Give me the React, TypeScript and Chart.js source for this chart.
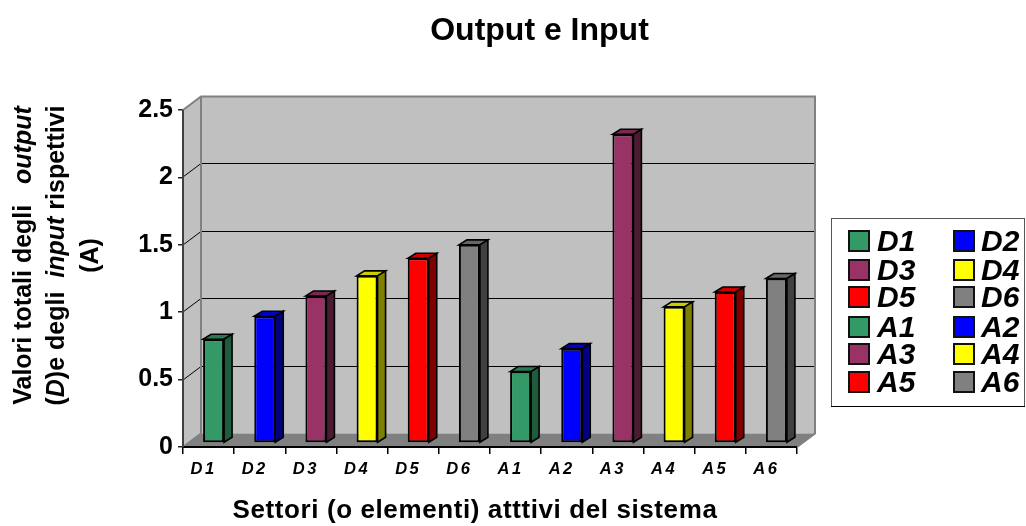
import React, { useEffect, useRef } from "react";
import { Chart, registerables } from "chart.js";

Chart.register(...registerables);

const categories = ["D1", "D2", "D3", "D4", "D5", "D6", "A1", "A2", "A3", "A4", "A5", "A6"];
const values = [0.77, 0.94, 1.09, 1.24, 1.37, 1.47, 0.53, 0.7, 2.29, 1.01, 1.12, 1.22];
const frontColors = ["#339966", "#0000FF", "#993366", "#FFFF00", "#FF0000", "#808080", "#339966", "#0000FF", "#993366", "#FFFF00", "#FF0000", "#808080"];
const topColors = ["#287A52", "#0000CC", "#7A2952", "#CCCC00", "#CC0000", "#666666", "#287A52", "#0000CC", "#7A2952", "#CCCC00", "#CC0000", "#666666"];
const sideColors = ["#1F5C3D", "#000080", "#4D1A33", "#808000", "#800000", "#404040", "#1F5C3D", "#000080", "#4D1A33", "#808000", "#800000", "#404040"];
const yTicks = [0, 0.5, 1, 1.5, 2, 2.5];
const titleText = "Output e Input";
const xTitleText = "Settori (o elementi) atttivi del sistema";
const yTitleLines: [string, boolean][][] = [
  [["Valori totali degli   ", false], ["output", true]],
  [["(", false], ["D", true], [")e degli  ", false], ["input", true], [" rispettivi", false]],
  [["(A)", false]],
];

const FF = '"Liberation Sans", Arial, sans-serif';
const DX = 18;
const DY = -13.5;
const BAR_DX = 5;
const BAR_DY = -4;
const BAR_DEPTH_X = 8;
const BAR_DEPTH_Y = -5;

function poly(ctx: CanvasRenderingContext2D, pts: number[][], fill?: string, stroke?: string, lw = 1) {
  ctx.beginPath();
  pts.forEach((p, i) => (i ? ctx.lineTo(p[0], p[1]) : ctx.moveTo(p[0], p[1])));
  ctx.closePath();
  if (fill) {
    ctx.fillStyle = fill;
    ctx.fill();
  }
  if (stroke) {
    ctx.strokeStyle = stroke;
    ctx.lineWidth = lw;
    ctx.stroke();
  }
}

const walls = {
  id: "walls",
  beforeDatasetsDraw(chart: any) {
    const { ctx, chartArea: a, scales } = chart;
    const { left: l, right: r, top: t, bottom: b } = a;
    ctx.save();
    poly(ctx, [[l + DX, t + DY], [r + DX, t + DY], [r + DX, b + DY], [l + DX, b + DY]], "#C0C0C0");
    poly(ctx, [[l, t], [l + DX, t + DY], [l + DX, b + DY], [l, b]], "#C0C0C0");
    poly(ctx, [[l, b], [l + DX, b + DY], [r + DX, b + DY], [r, b]], "#808080");
    ctx.strokeStyle = "#000";
    ctx.lineWidth = 1;
    for (const v of yTicks) {
      if (v === 0 || v === 2.5) continue;
      const y = Math.round(scales.y.getPixelForValue(v));
      ctx.beginPath();
      ctx.moveTo(l, y);
      ctx.lineTo(l + DX, y + DY);
      ctx.lineTo(r + DX, y + DY);
      ctx.stroke();
    }
    ctx.strokeStyle = "#808080";
    ctx.lineWidth = 2;
    ctx.beginPath();
    ctx.moveTo(l, t);
    ctx.lineTo(l + DX, t + DY);
    ctx.lineTo(r + DX, t + DY);
    ctx.lineTo(r + DX, b + DY);
    ctx.lineTo(r, b);
    ctx.moveTo(l + DX, t + DY);
    ctx.lineTo(l + DX, b + DY);
    ctx.moveTo(l, b);
    ctx.lineTo(l + DX, b + DY);
    ctx.stroke();
    ctx.restore();

    ctx.save();
    ctx.strokeStyle = "#000";
    ctx.lineWidth = 2;
    ctx.beginPath();
    ctx.moveTo(l, b);
    ctx.lineTo(r, b);
    ctx.stroke();
    ctx.strokeStyle = "#404040";
    ctx.beginPath();
    ctx.moveTo(l, t);
    ctx.lineTo(l, b);
    ctx.stroke();
    ctx.restore();
  },
};

const bars3d = {
  id: "bars3d",
  beforeDatasetDraw(chart: any, args: any) {
    const { ctx } = chart;
    ctx.save();
    ctx.translate(BAR_DX, BAR_DY);
    args.meta.data.forEach((el: any, i: number) => {
      const { x, y, base, width } = el.getProps(["x", "y", "base", "width"], true);
      const L = x - width / 2;
      const R = x + width / 2;
      poly(ctx, [[L, y], [L + BAR_DEPTH_X, y + BAR_DEPTH_Y], [R + BAR_DEPTH_X, y + BAR_DEPTH_Y], [R, y]], topColors[i], "#000", 1.6);
      poly(ctx, [[R, y], [R + BAR_DEPTH_X, y + BAR_DEPTH_Y], [R + BAR_DEPTH_X, base + BAR_DEPTH_Y], [R, base]], sideColors[i], "#000", 1.6);
    });
  },
  afterDatasetDraw(chart: any) {
    chart.ctx.restore();
  },
};

const spacedXLabels = {
  id: "spacedXLabels",
  afterUpdate(chart: any) {
    const s = chart.scales.x;
    const orig = s.drawLabels;
    s.drawLabels = function (area: any) {
      const c = this.ctx;
      c.save();
      c.letterSpacing = "2.5px";
      orig.call(this, area);
      c.restore();
    };
  },
};

const texts = {
  id: "texts",
  afterDraw(chart: any) {
    const { ctx } = chart;
    ctx.save();
    ctx.fillStyle = "#000";
    ctx.textBaseline = "alphabetic";
    ctx.textAlign = "center";
    ctx.font = `bold 32px ${FF}`;
    ctx.fillText(titleText, 539.5, 40);
    ctx.letterSpacing = "0.6px";
    ctx.font = `bold 26px ${FF}`;
    ctx.fillText(xTitleText, 475, 518);
    ctx.letterSpacing = "0px";
    const lineX = [31, 64, 98];
    const size = 25;
    ctx.textAlign = "left";
    yTitleLines.forEach((runs, li) => {
      const font = (it: boolean) => `${it ? "italic " : ""}bold ${size}px ${FF}`;
      let w = 0;
      for (const [t, it] of runs) {
        ctx.font = font(it);
        w += ctx.measureText(t).width;
      }
      ctx.save();
      ctx.translate(lineX[li], 255.5);
      ctx.rotate(-Math.PI / 2);
      let x = -w / 2;
      for (const [t, it] of runs) {
        ctx.font = font(it);
        ctx.fillText(t, x, 0);
        x += ctx.measureText(t).width;
      }
      ctx.restore();
    });
    const bx = 831, by = 218, bw = 193, bh = 188;
    ctx.fillStyle = "#fff";
    ctx.fillRect(bx, by, bw, bh);
    ctx.strokeStyle = "#555";
    ctx.lineWidth = 1;
    ctx.strokeRect(bx + 0.5, by + 0.5, bw, bh);
    ctx.strokeStyle = "#000";
    ctx.beginPath();
    ctx.moveTo(bx, by + bh + 0.5);
    ctx.lineTo(bx + bw + 1, by + bh + 0.5);
    ctx.stroke();
    const rowY = [241, 270, 297, 327, 354, 382];
    ctx.font = `italic bold 30px ${FF}`;
    ctx.textAlign = "left";
    categories.forEach((c, i) => {
      const col = i % 2;
      const row = Math.floor(i / 2);
      const sx = col ? 954 : 849;
      const y = rowY[row];
      ctx.fillStyle = frontColors[i];
      ctx.fillRect(sx, y - 10, 20, 20);
      ctx.strokeStyle = "#111";
      ctx.lineWidth = 2;
      ctx.strokeRect(sx, y - 10, 20, 20);
      ctx.fillStyle = "#000";
      ctx.fillText(c, col ? 981 : 877, y + 10);
    });
    ctx.restore();
  },
};

export default function App() {
  const ref = useRef<HTMLCanvasElement>(null);
  useEffect(() => {
    const chart = new Chart(ref.current as HTMLCanvasElement, {
      type: "bar",
      data: {
        labels: categories,
        datasets: [
          {
            data: values,
            backgroundColor: frontColors,
            borderColor: "#000",
            borderWidth: 2,
            borderSkipped: false,
            barPercentage: 1,
            categoryPercentage: 21 / 51.2,
          },
        ],
      },
      options: {
        responsive: false,
        animation: false,
        devicePixelRatio: 1,
        layout: { padding: { top: 110, right: 229, left: 0, bottom: 0 } },
        plugins: { legend: { display: false }, title: { display: false }, tooltip: { enabled: false } },
        scales: {
          x: {
            afterFit: (s: any) => { s.height = 79; },
            grid: { drawOnChartArea: false, color: "#000", tickLength: 7, lineWidth: 1.5 },
            border: { color: "#000", width: 2 },
            ticks: {
              autoSkip: false,
              maxRotation: 0,
              labelOffset: -5,
              padding: 6,
              color: "#000",
              font: { family: FF, size: 16.5, weight: "bold", style: "italic" },
            },
          },
          y: {
            min: 0,
            max: 2.5,
            afterFit: (s: any) => { s.width = 183; },
            afterBuildTicks: (s: any) => { s.ticks = yTicks.map((value) => ({ value })); },
            grid: { drawOnChartArea: false, color: "#222", tickLength: 5, lineWidth: 1.5 },
            border: { color: "#404040", width: 2 },
            ticks: {
              padding: 5,
              color: "#000",
              callback: (v: any) => String(v),
              font: { family: FF, size: 25, weight: "bold" },
            },
          },
        },
      },
      plugins: [walls, bars3d, spacedXLabels, texts],
    } as any);
    return () => chart.destroy();
  }, []);
  return (
    <div style={{ position: "absolute", left: 0, top: 0, width: 1026, height: 526 }}>
      <canvas ref={ref} width={1026} height={526} style={{ display: "block" }} />
    </div>
  );
}
